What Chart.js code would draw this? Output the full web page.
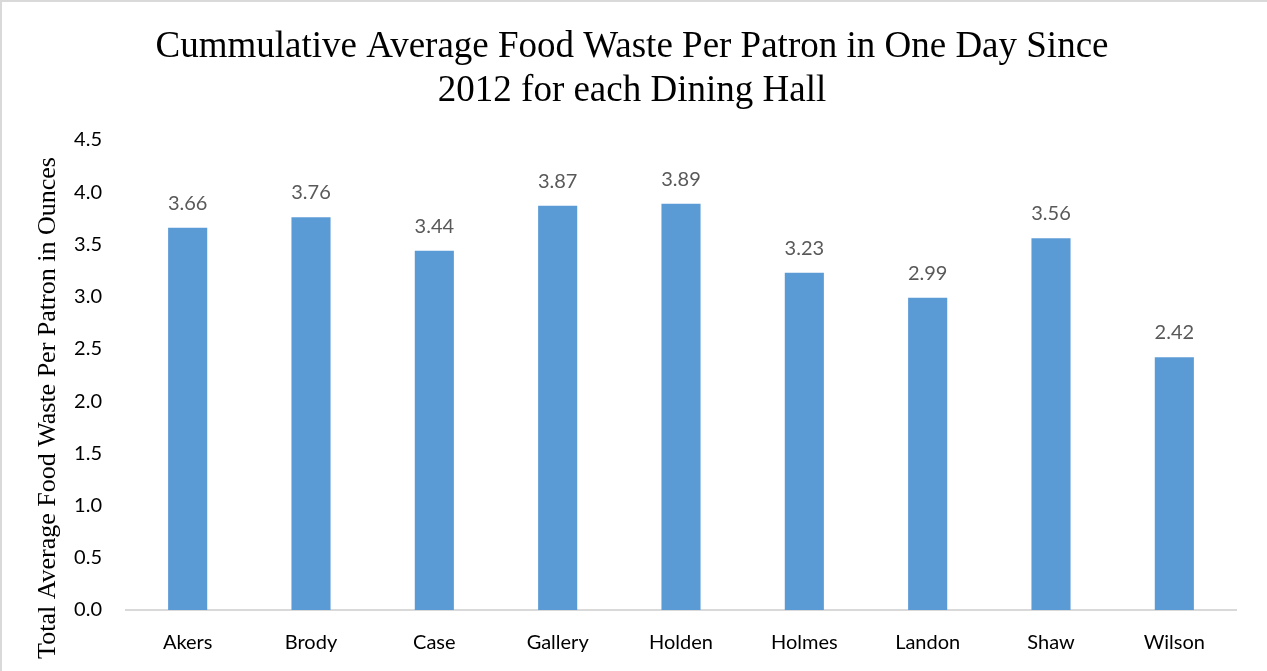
<!DOCTYPE html>
<html>
<head>
<meta charset="utf-8">
<script src="https://cdn.jsdelivr.net/npm/chart.js@4.4.1/dist/chart.umd.min.js"></script>
<style>
    html, body { margin: 0; padding: 0; background: #ffffff; }
    #wrap { position: relative; width: 1265px; height: 669px; border-left: 2px solid #d9d9d9; border-top: 2px solid #d9d9d9; }
</style>
</head>
<body>
<div id="wrap"><canvas id="wasteChart"></canvas></div>
<script>
// Dados do gráfico
const halls = ['Akers', 'Brody', 'Case', 'Gallery', 'Holden', 'Holmes', 'Landon', 'Shaw', 'Wilson'];
const wastePerPatron = [3.66, 3.76, 3.44, 3.87, 3.89, 3.23, 2.99, 3.56, 2.42];
const titleLines = ['Cummulative Average Food Waste Per Patron in One Day Since', '2012 for each Dining Hall'];
const yAxisTitle = 'Total Average Food Waste Per Patron in Ounces';

const serif = '"Liberation Serif", "Times New Roman", serif';
const sans = 'Lato, "Open Sans", sans-serif';

// Título do gráfico e título do eixo Y desenhados à mão
const titles = {
    id: 'titles',
    afterDraw(chart) {
        const ctx = chart.ctx;
        ctx.save();
        ctx.fillStyle = '#000000';
        ctx.textAlign = 'center';
        ctx.textBaseline = 'alphabetic';
        ctx.font = '37px ' + serif;
        ctx.fillText(titleLines[0], 630, 55);
        ctx.fillText(titleLines[1], 630, 99);

        ctx.translate(46, 406);
        ctx.rotate(-Math.PI / 2);
        ctx.textBaseline = 'middle';
        ctx.font = '26px ' + serif;
        ctx.fillText(yAxisTitle, 0, 0);
        ctx.restore();
    }
};

// Rótulos de valor acima das barras
const valueLabels = {
    id: 'valueLabels',
    afterDatasetsDraw(chart) {
        const ctx = chart.ctx;
        const meta = chart.getDatasetMeta(0);
        ctx.save();
        ctx.font = '20px ' + sans;
        ctx.fillStyle = '#595959';
        ctx.textAlign = 'center';
        ctx.textBaseline = 'alphabetic';
        meta.data.forEach(function(bar, i) {
            ctx.fillText(wastePerPatron[i].toFixed(2), bar.x, bar.y - 18);
        });
        ctx.restore();
    }
};

new Chart(document.getElementById('wasteChart').getContext('2d'), {
    type: 'bar',
    data: {
        labels: halls,
        datasets: [{
            data: wastePerPatron,
            backgroundColor: '#5b9bd5',
            borderWidth: 0,
            categoryPercentage: 1,
            barPercentage: 0.317
        }]
    },
    options: {
        responsive: true,
        maintainAspectRatio: false,
        animation: false,
        layout: {
            padding: { left: 0, right: 31, top: 138, bottom: 0 }
        },
        plugins: {
            legend: { display: false },
            tooltip: { enabled: false },
            title: { display: false }
        },
        scales: {
            y: {
                min: 0,
                max: 4.5,
                ticks: {
                    stepSize: 0.5,
                    color: '#000000',
                    padding: 16,
                    font: { family: sans, size: 20 },
                    callback: function(value) { return value.toFixed(1); }
                },
                grid: { display: false },
                border: { display: false },
                afterFit: function(scale) { scale.width = 124; }
            },
            x: {
                ticks: {
                    color: '#000000',
                    padding: 13,
                    font: { family: sans, size: 20 }
                },
                grid: { display: false },
                border: { display: true, color: '#d9d9d9', width: 2 },
                afterFit: function(scale) { scale.height = 61; }
            }
        }
    },
    plugins: [valueLabels, titles]
});
</script>
</body>
</html>
